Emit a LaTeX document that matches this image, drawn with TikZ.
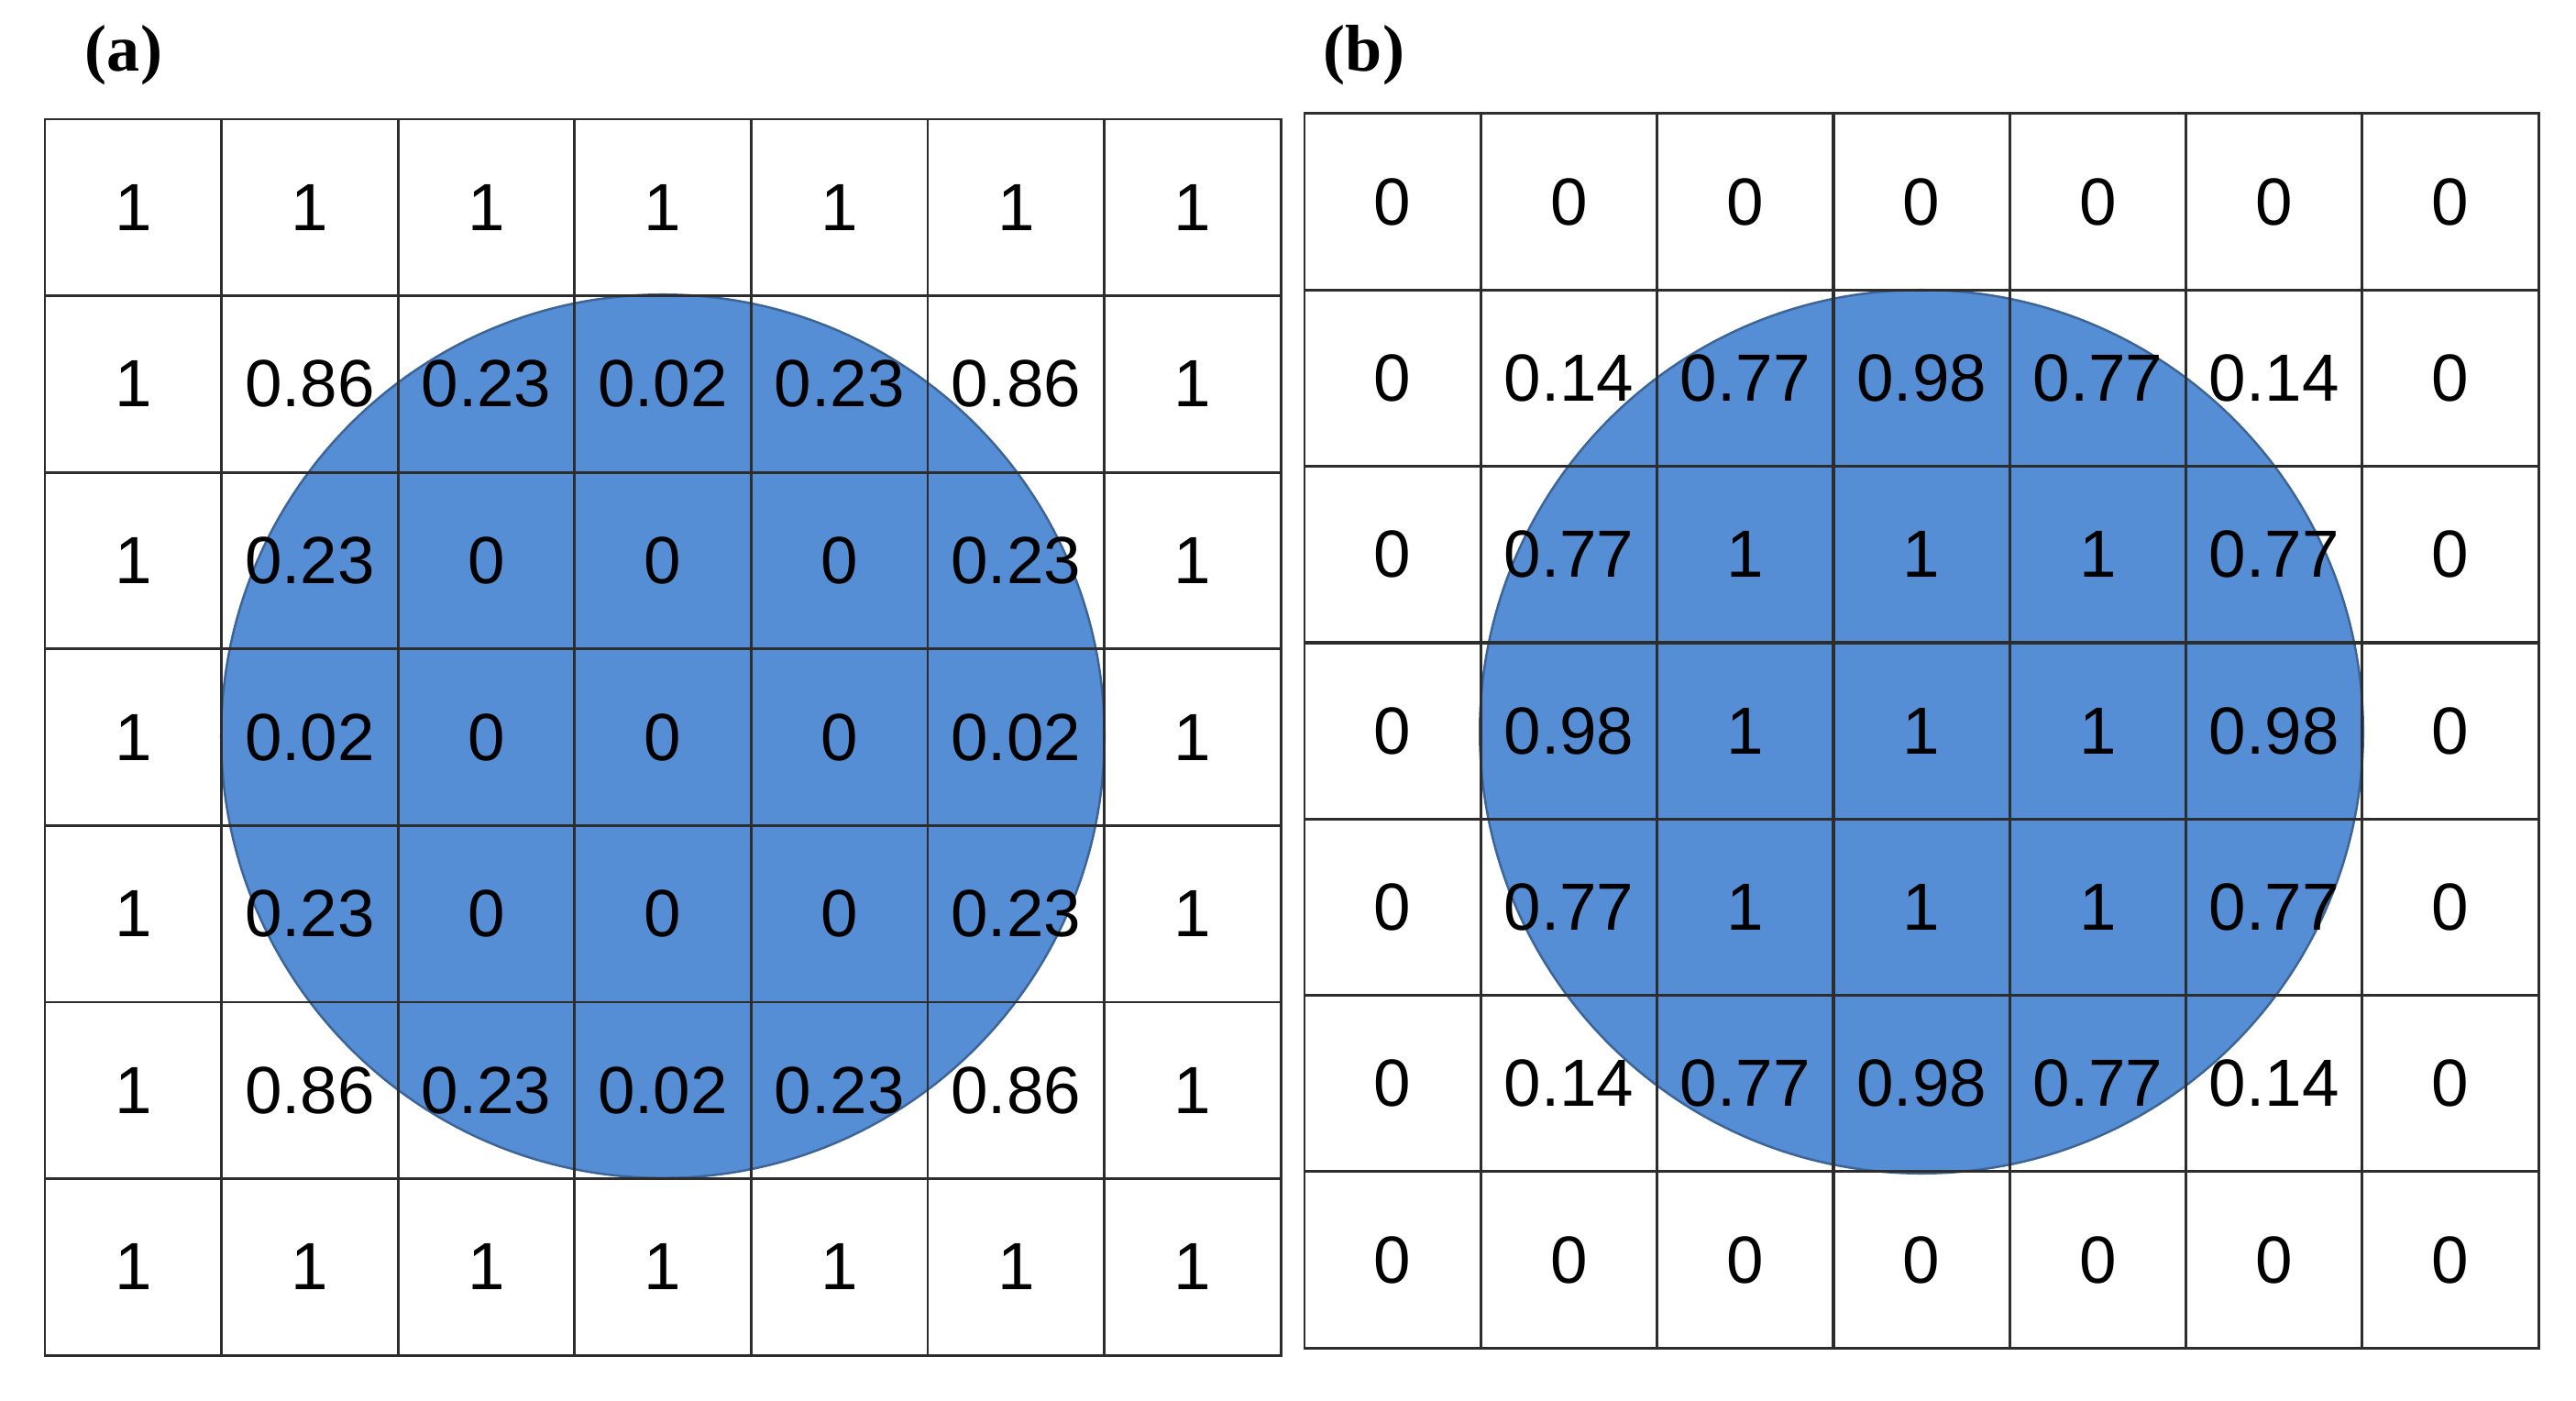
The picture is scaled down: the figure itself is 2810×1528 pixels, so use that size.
\documentclass[tikz,border=0pt]{standalone}
\usepackage{fontspec}
\setmainfont{Liberation Serif}
\newfontfamily\numfont{Liberation Sans}
\begin{document}
\begin{tikzpicture}[x=0.01cm,y=-0.01cm]
\definecolor{circfill}{RGB}{85,142,213}
\definecolor{circline}{RGB}{60,100,150}
\definecolor{gridline}{RGB}{45,45,45}
\tikzset{
  cell/.style={draw=gridline, line width=0.8pt, minimum width=1.925cm, minimum height=1.925cm,
    inner sep=0pt, font=\numfont\fontsize{20.7}{24}\selectfont},
  disc/.style={circle, fill=circfill, draw=circline, line width=0.7pt, minimum size=9.63cm, inner sep=0pt},
  panel/.style={font=\bfseries\fontsize{20.5}{24}\selectfont, inner sep=0pt}
}
\useasboundingbox (0,0) rectangle (2810,1528);
\fill[white] (0,0) rectangle (2810,1528);
% panel labels
\node[panel] (la) at (135,60) {(a)};
\node[panel] (lb) at (1488,60) {(b)};
% circles
\node[disc] (ca) at (723,803) {};
\node[disc] (cb) at (2096,798) {};
% grid (a)
\foreach \row [count=\r from 0] in {
  {1,1,1,1,1,1,1},
  {1,0.86,0.23,0.02,0.23,0.86,1},
  {1,0.23,0,0,0,0.23,1},
  {1,0.02,0,0,0,0.02,1},
  {1,0.23,0,0,0,0.23,1},
  {1,0.86,0.23,0.02,0.23,0.86,1},
  {1,1,1,1,1,1,1}}{
  \foreach \v [count=\c from 0] in \row {
    \node[cell] (a-\r-\c) at ({49+96.3+192.6*\c},{130+96.3+192.6*\r}) {\v};
  }
}
% grid (b)
\foreach \row [count=\r from 0] in {
  {0,0,0,0,0,0,0},
  {0,0.14,0.77,0.98,0.77,0.14,0},
  {0,0.77,1,1,1,0.77,0},
  {0,0.98,1,1,1,0.98,0},
  {0,0.77,1,1,1,0.77,0},
  {0,0.14,0.77,0.98,0.77,0.14,0},
  {0,0,0,0,0,0,0}}{
  \foreach \v [count=\c from 0] in \row {
    \node[cell] (b-\r-\c) at ({1423+96.2+192.3*\c},{124+96.2+192.3*\r}) {\v};
  }
}
\end{tikzpicture}
\end{document}
